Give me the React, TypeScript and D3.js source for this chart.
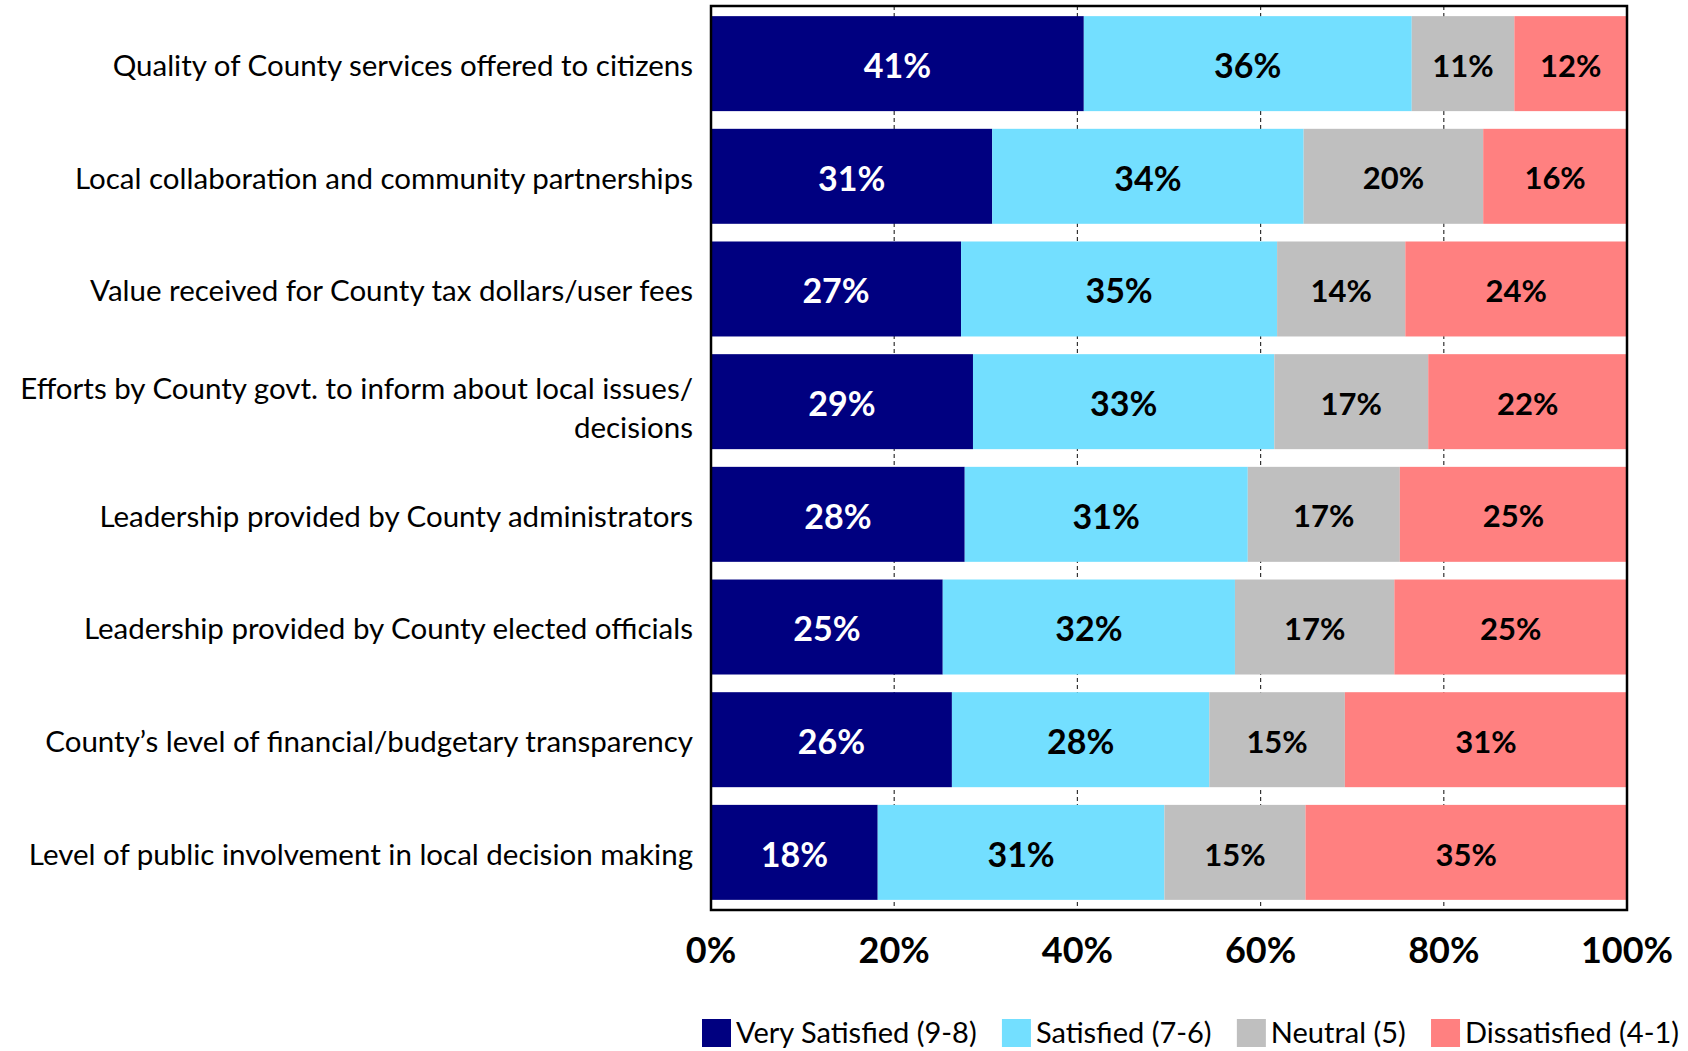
import React, { useEffect, useRef } from "react";
import * as d3 from "d3";

const categories: string[][] = [
  ["Quality of County services offered to citizens"],
  ["Local collaboration and community partnerships"],
  ["Value received for County tax dollars/user fees"],
  ["Efforts by County govt. to inform about local issues/", "decisions"],
  ["Leadership provided by County administrators"],
  ["Leadership provided by County elected officials"],
  ["County\u2019s level of financial/budgetary transparency"],
  ["Level of public involvement in local decision making"],
];

const seriesNames = ["Very Satisfied (9-8)", "Satisfied (7-6)", "Neutral (5)", "Dissatisfied (4-1)"];
const seriesColors = ["#000080", "#73DFFF", "#BFBFBF", "#FF8080"];
const labelColors = ["#FFFFFF", "#000000", "#000000", "#000000"];

const verySatisfied = [40.7, 30.7, 27.3, 28.6, 27.7, 25.3, 26.3, 18.2];
const satisfied = [35.8, 34.0, 34.5, 32.9, 30.9, 31.9, 28.1, 31.3];
const neutral = [11.2, 19.6, 14.0, 16.8, 16.6, 17.4, 14.8, 15.4];
const dissatisfied = [12.3, 15.7, 24.2, 21.7, 24.8, 25.4, 30.8, 35.1];

const xTicks = [0, 20, 40, 60, 80, 100];

const FONT = "Lato, 'Open Sans', sans-serif";

export default function App() {
  const legendRef = useRef<SVGGElement>(null);

  useEffect(() => {
    document.body.style.margin = "0";
    const g = legendRef.current;
    if (!g) return;
    const items = d3.select(g).selectAll<SVGGElement, unknown>("g.item");
    const widths: number[] = [];
    items.each(function () {
      const t = this.querySelector("text") as SVGTextElement;
      widths.push(t.getComputedTextLength());
    });
    const startX = 702;
    const endX = 1679;
    const sq = 34;
    const total = widths.reduce((a, b) => a + b, 0) + sq * widths.length;
    const gap = (endX - startX - total) / (widths.length - 1);
    let cx = startX;
    items.each(function (_, i) {
      d3.select(this).attr("transform", `translate(${cx},1033)`);
      cx += sq + widths[i] + gap;
    });
  }, []);

  const W = 1688;
  const H = 1051;
  const left = 711;
  const right = 1627;
  const top = 6;
  const bottom = 910;

  const x = d3.scaleLinear().domain([0, 100]).range([left, right]);
  const y = d3
    .scaleBand<number>()
    .domain(d3.range(categories.length))
    .range([top, bottom])
    .paddingInner(0.157)
    .paddingOuter(0.09);

  const series = [verySatisfied, satisfied, neutral, dissatisfied];
  const rows = categories.map((_, i) => {
    let acc = 0;
    return series.map((s, k) => {
      const x0 = acc;
      acc += s[i];
      return { k, x0, x1: acc, v: s[i] };
    });
  });

  return (
    <svg width={W} height={H} style={{ display: "block" }} fontFamily={FONT}>
      <rect x={0} y={0} width={W} height={H} fill="#fff" />
      {/* gridlines */}
      {xTicks.slice(1, -1).map((t) => (
        <line
          key={t}
          x1={x(t)}
          x2={x(t)}
          y1={top}
          y2={bottom}
          stroke="#333"
          strokeWidth={1.2}
          strokeDasharray="4,3"
        />
      ))}
      {/* bars */}
      {rows.map((row, i) =>
        row.map((seg) => (
          <rect
            key={`${i}-${seg.k}`}
            x={x(seg.x0)}
            y={y(i)!}
            width={x(seg.x1) - x(seg.x0)}
            height={y.bandwidth()}
            fill={seriesColors[seg.k]}
          />
        ))
      )}
      {/* value labels */}
      {rows.map((row, i) =>
        row.map((seg) => (
          <text
            key={`t${i}-${seg.k}`}
            x={(x(seg.x0) + x(seg.x1)) / 2}
            y={y(i)! + y.bandwidth() / 2 + 2}
            dy="0.36em"
            textAnchor="middle"
            fontWeight="bold"
            fontSize={seg.k === 0 || seg.k === 1 ? 34 : 31}
            fill={labelColors[seg.k]}
          >
            {`${Math.round(seg.v)}%`}
          </text>
        ))
      )}
      {/* frame */}
      <rect
        x={left}
        y={top}
        width={right - left}
        height={bottom - top}
        fill="none"
        stroke="#000"
        strokeWidth={2.5}
      />
      {/* category labels */}
      {categories.map((lines, i) => {
        const cy = y(i)! + y.bandwidth() / 2 + 2;
        const lh = 39;
        const start = cy - ((lines.length - 1) * lh) / 2 + (lines.length > 1 ? 5 : 0);
        return (
          <text key={`c${i}`} textAnchor="end" fontSize={29.5} fill="#000">
            {lines.map((ln, j) => (
              <tspan key={j} x={693} y={start + j * lh} dy="0.35em">
                {ln}
              </tspan>
            ))}
          </text>
        );
      })}
      {/* x tick labels */}
      {xTicks.map((t) => (
        <text
          key={`x${t}`}
          x={x(t)}
          y={950}
          dy="0.36em"
          textAnchor="middle"
          fontWeight="bold"
          fontSize={36}
          fill="#000"
        >
          {`${t}%`}
        </text>
      ))}
      {/* legend */}
      <g ref={legendRef}>
        {seriesNames.map((name, k) => (
          <g key={`l${k}`} className="item" transform={`translate(${702 + k * 240},1033)`}>
            <rect x={0} y={-14} width={29} height={28} fill={seriesColors[k]} />
            <text x={34} y={0} dy="0.36em" fontSize={29} fill="#000">
              {name}
            </text>
          </g>
        ))}
      </g>
    </svg>
  );
}
